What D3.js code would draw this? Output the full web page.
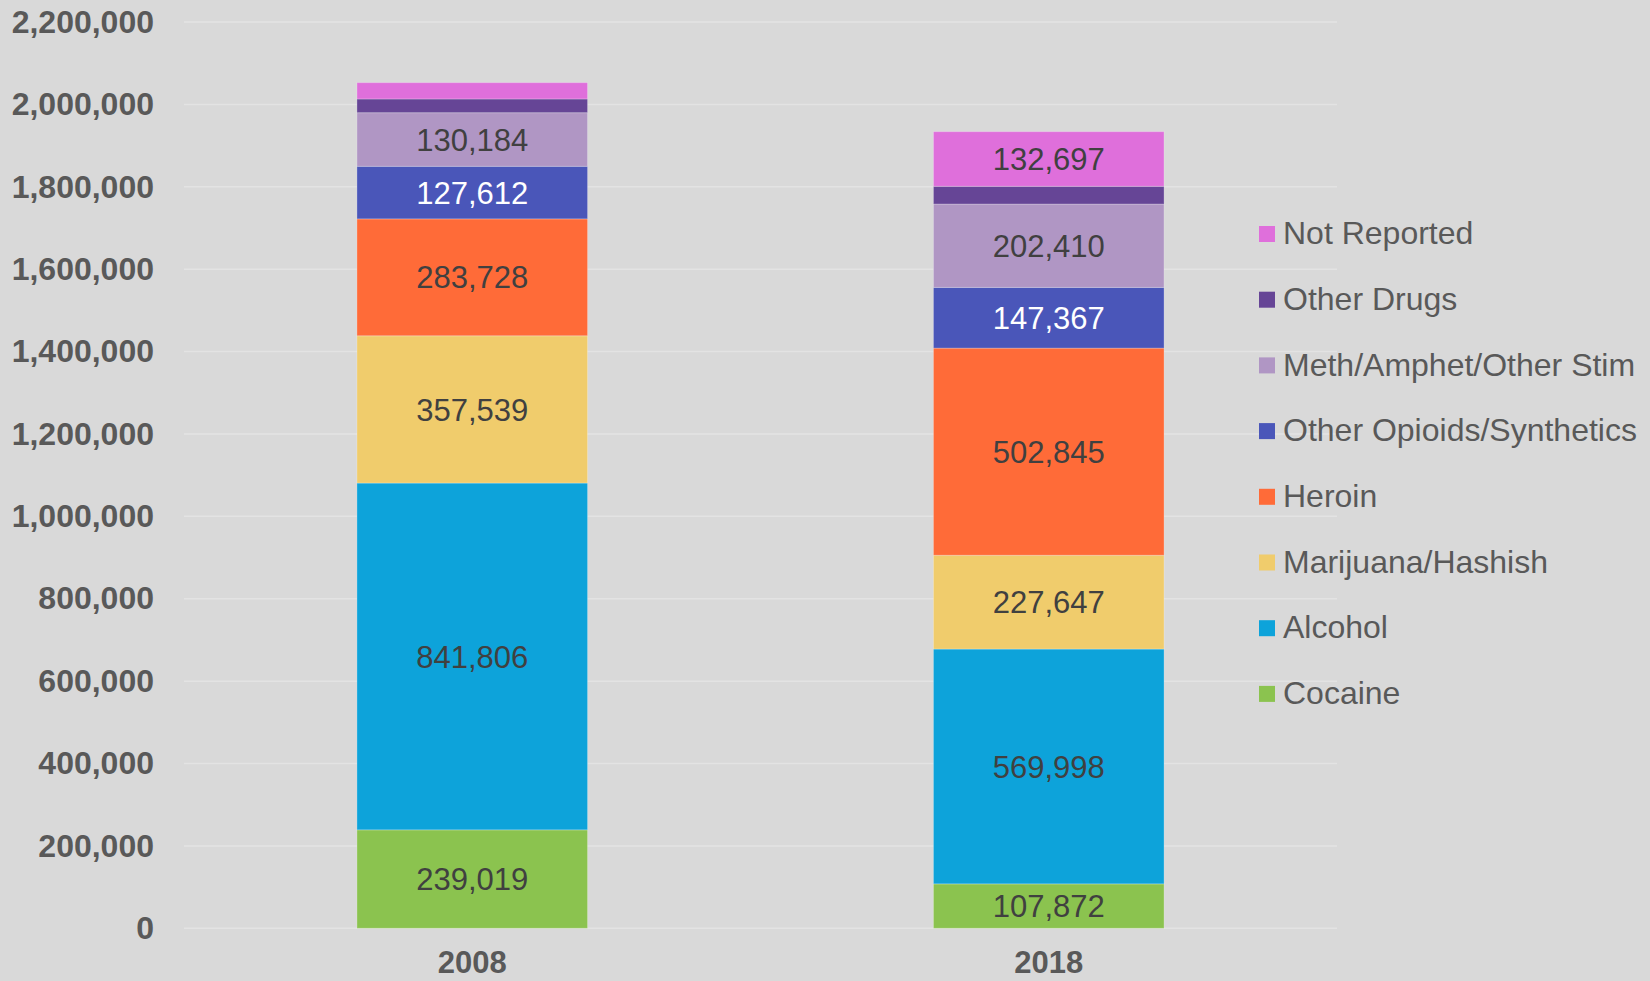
<!DOCTYPE html>
<meta charset="utf-8">
<head>
<title>Admissions by primary substance</title>
<script src="https://d3js.org/d3.v7.min.js"></script>
<style>
  body { margin: 0; background: #d9d9d9; }
  svg { display: block; font-family: "Liberation Sans", Arial, sans-serif; }
</style>
</head>
<body>
<svg id="chart" width="1650" height="981"></svg>
<script>
// years on the x axis
var years = ["2008", "2018"]
// stack order bottom -> top
var substances = ["Cocaine", "Alcohol", "Marijuana/Hashish", "Heroin",
  "Other Opioids/Synthetics", "Meth/Amphet/Other Stim", "Other Drugs", "Not Reported"]
var colors = ["#8bc34f", "#0da3da", "#f0cc6c", "#ff6b38",
  "#4a56b9", "#b096c4", "#664596", "#df6fdb"]
// values per year (Other Drugs and 2008 Not Reported)
var values2008 = [239019, 841806, 357539, 283728, 127612, 130184, 33300, 39600]
var values2018 = [107872, 569998, 227647, 502845, 147367, 202410, 43000, 132697]
var yTicks = [0, 200000, 400000, 600000, 800000, 1000000, 1200000,
  1400000, 1600000, 1800000, 2000000, 2200000]

var svg = d3.select("#chart")

var rows = years.map(function(yr, i) {
  var vals = i == 0 ? values2008 : values2018
  var r = { year: yr }
  substances.forEach(function(s, j) { r[s] = vals[j] })
  return r
})

var x = d3.scaleBand()
  .domain(years)
  .range([184, 1337])
  .paddingInner(0.6)
  .paddingOuter(0.3)

var y = d3.scaleLinear()
  .domain([0, 2200000])
  .range([928.3, 22])

var color = d3.scaleOrdinal().domain(substances).range(colors)

// gridlines
svg.append("g")
  .selectAll("line")
  .data(yTicks)
  .enter().append("line")
  .attr("x1", 184).attr("x2", 1337)
  .attr("y1", function(d) { return y(d) })
  .attr("y2", function(d) { return y(d) })
  .attr("stroke", "#e3e3e3")
  .attr("stroke-width", 1.5)

// y axis labels
var fmt = d3.format(",")
var yAxis = svg.append("g")
  .attr("transform", "translate(154,0)")
  .call(d3.axisLeft(y).tickValues(yTicks).tickFormat(function(d) { return d == 0 ? "0" : fmt(d) }).tickSize(0).tickPadding(0))
yAxis.select(".domain").remove()
yAxis.selectAll("text")
  .attr("fill", "#595959")
  .style("font-size", "32px")
  .style("font-weight", "bold")
  .style("font-family", "'Liberation Sans', Arial, sans-serif")

// x axis labels
var xAxis = svg.append("g")
  .attr("transform", "translate(0,943)")
  .call(d3.axisBottom(x).tickSize(0).tickPadding(0))
xAxis.select(".domain").remove()
xAxis.selectAll("text")
  .attr("fill", "#595959")
  .attr("dy", "0.98em")
  .style("font-size", "31px")
  .style("font-weight", "bold")
  .style("font-family", "'Liberation Sans', Arial, sans-serif")

// stacked bars
var series = d3.stack().keys(substances)(rows)

var layer = svg.append("g")
  .selectAll("g")
  .data(series)
  .enter().append("g")
  .attr("fill", function(d) { return color(d.key) })

layer.selectAll("rect")
  .data(function(d) { return d })
  .enter().append("rect")
  .attr("x", function(d) { return x(d.data.year) })
  .attr("width", x.bandwidth())
  .attr("y", function(d) { return y(d[1]) })
  .attr("height", function(d) { return y(d[0]) - y(d[1]) })
  .attr("stroke", "rgba(255,255,255,0.25)")
  .attr("stroke-width", 1)

// data labels (only the big segments are labelled)
series.forEach(function(s) {
  svg.append("g")
    .selectAll("text")
    .data(s.filter(function(d) { return d.data[s.key] >= 100000 }))
    .enter().append("text")
    .attr("x", function(d) { return x(d.data.year) + x.bandwidth() / 2 })
    .attr("y", function(d) { return (y(d[0]) + y(d[1])) / 2 })
    .attr("dy", "0.36em")
    .attr("text-anchor", "middle")
    .attr("fill", s.key == "Other Opioids/Synthetics" ? "#ffffff" : "#404040")
    .style("font-size", "31px")
    .text(function(d) { return fmt(d.data[s.key]) })
})

// legend, top item is the top of the stack
var legendItems = substances.slice().reverse()
var legend = svg.append("g")
  .selectAll("g")
  .data(legendItems)
  .enter().append("g")
  .attr("transform", function(d, i) { return "translate(1259," + (233 + i * 65.7) + ")" })

legend.append("rect")
  .attr("x", 0).attr("y", -7)
  .attr("width", 16).attr("height", 16)
  .attr("fill", function(d) { return color(d) })

legend.append("text")
  .attr("x", 24)
  .attr("dy", "0.35em")
  .attr("fill", "#595959")
  .style("font-size", "32px")
  .text(function(d) { return d })
</script>
</body>
